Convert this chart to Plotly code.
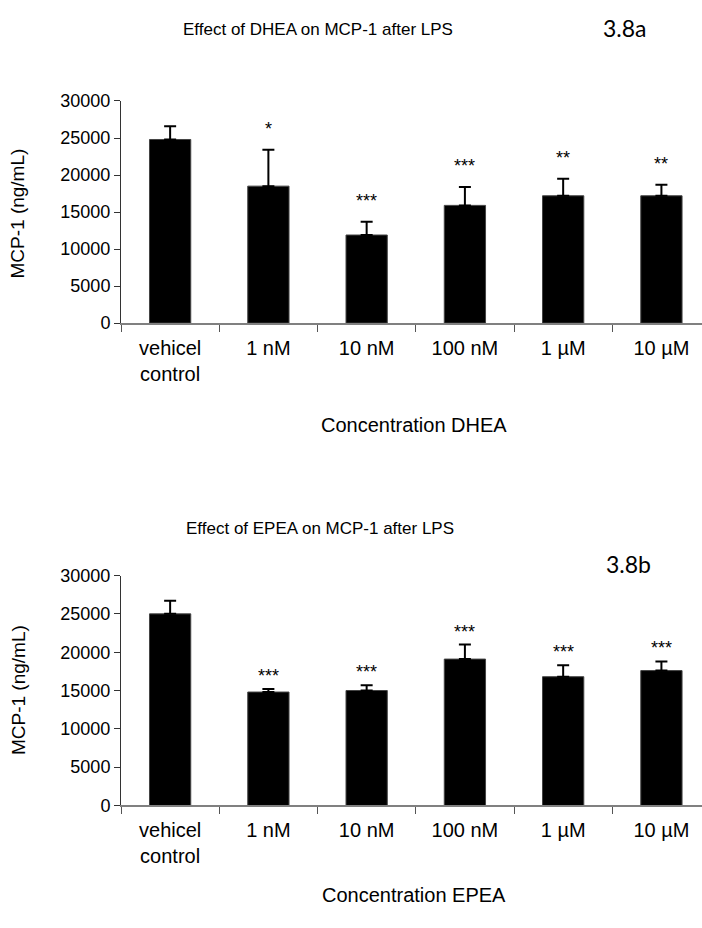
import plotly.graph_objects as go

categories = ["vehicel<br>control", "1 nM", "10 nM", "100 nM", "1 µM", "10 µM"]
dhea_mean = [24800, 18500, 11900, 15900, 17200, 17200]
dhea_err = [1800, 4900, 1800, 2500, 2300, 1500]
dhea_sig = ["", "*", "***", "***", "**", "**"]
epea_mean = [25000, 14800, 15000, 19100, 16800, 17600]
epea_err = [1700, 400, 700, 1900, 1500, 1200]
epea_sig = ["", "***", "***", "***", "***", "***"]

W, H = 702, 928
FONT = "Liberation Sans, Arial, sans-serif"

def py(px):
    return 1 - px / H

fig = go.Figure()
for i, (mean, err) in enumerate([(dhea_mean, dhea_err), (epea_mean, epea_err)]):
    fig.add_trace(go.Bar(
        x=categories, y=mean, width=0.42,
        marker=dict(color="black", line=dict(color="#444", width=1)),
        error_y=dict(type="data", array=err, arrayminus=[0] * len(err), symmetric=False,
                     color="black", thickness=2, width=6),
        xaxis="x" if i == 0 else "x2", yaxis="y" if i == 0 else "y2",
        showlegend=False, hoverinfo="skip",
    ))

annotations = []
for xa, ya, mean, err, sig, shift in [("x", "y", dhea_mean, dhea_err, dhea_sig, 9),
                                       ("x2", "y2", epea_mean, epea_err, epea_sig, 1)]:
    for c, m, e, s in zip(categories, mean, err, sig):
        if s:
            annotations.append(dict(x=c, y=m + e, xref=xa, yref=ya, text=s, showarrow=False,
                                    yanchor="bottom", yshift=shift,
                                    font=dict(family=FONT, size=18, color="black")))

def txt(text, x, y, size, family=FONT, angle=0):
    return dict(text=text, x=x / W, y=py(y), xref="paper", yref="paper", showarrow=False,
                xanchor="center", yanchor="middle", textangle=angle,
                font=dict(family=family, size=size, color="black"))

annotations += [
    txt("Effect of DHEA on MCP-1 after LPS", 318, 20, 17),
    txt("3.8a", 625, 18, 23, family="Lato, Open Sans, sans-serif"),
    txt("MCP-1 (ng/mL)", 18, 208, 19, angle=-90),
    txt("Concentration DHEA", 414, 424, 20),
    txt("Effect of EPEA on MCP-1 after LPS", 320, 530, 17),
    txt("3.8b", 628, 566, 23, family="Lato, Open Sans, sans-serif"),
    txt("MCP-1 (ng/mL)", 18, 695, 19, angle=-90),
    txt("Concentration EPEA", 414, 905, 20),
]

xcommon = dict(type="category", range=[-0.5, 5.413], domain=[121 / W, 1],
               showline=True, linecolor="#808080", linewidth=1.5,
               ticks="outside", tickson="boundaries", ticklen=7, tickcolor="#555",
               ticklabelstandoff=6,
               tickfont=dict(family=FONT, size=20, color="black"),
               showgrid=False, zeroline=False, fixedrange=True)
ycommon = dict(range=[0, 30000], tickvals=[0, 5000, 10000, 15000, 20000, 25000, 30000],
               tickformat="d", showline=True, linecolor="#333", linewidth=1,
               ticks="outside", ticklen=6, tickcolor="#333",
               tickfont=dict(family=FONT, size=18, color="black"),
               showgrid=False, zeroline=False, fixedrange=True)

fig.update_layout(
    width=W, height=H, margin=dict(l=0, r=0, t=0, b=0),
    paper_bgcolor="white", plot_bgcolor="white",
    xaxis=dict(**xcommon, anchor="y"),
    yaxis=dict(**ycommon, domain=[py(320), py(93)], anchor="x"),
    xaxis2=dict(**xcommon, anchor="y2"),
    yaxis2=dict(**ycommon, domain=[py(813), py(578)], anchor="x2"),
    annotations=annotations,
    bargap=0.58,
)

fig.write_html("out.html")
